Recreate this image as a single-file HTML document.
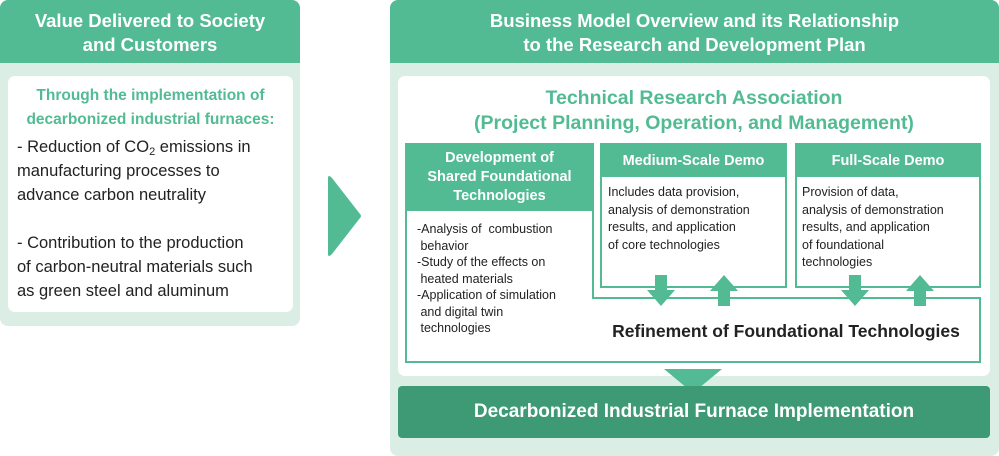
<!DOCTYPE html>
<html><head><meta charset="utf-8"><style>
*{margin:0;padding:0;box-sizing:border-box}
body{width:999px;height:456px;background:#fff;font-family:"Liberation Sans",sans-serif;position:relative;overflow:hidden;color:#222}
.a{position:absolute}
.hd{background:#52bb94;color:#fff;font-weight:bold;text-align:center}
.pan{background:#dbeee6;border-radius:8px}
.w{background:#fff;border-radius:7px}
.bx{border:2px solid #52bb94;background:#fff}
.t{font-size:13.5px;line-height:17px}
sub{font-size:11px;line-height:0;vertical-align:-3px}
</style></head><body>
<div class="a pan" style="left:0;top:0;width:300px;height:326px"></div>
<div class="a hd" style="left:0;top:0;width:300px;height:63px;border-radius:8px 8px 0 0;font-size:18.5px;line-height:24px;padding-top:9px">Value Delivered to Society<br>and Customers</div>
<div class="a w" style="left:8px;top:76px;width:285px;height:236px"></div>
<div class="a" style="left:8px;top:84px;width:285px;text-align:center;color:#52bb94;font-weight:bold;font-size:15.5px;line-height:24px">Through the implementation of<br>decarbonized industrial furnaces:</div>
<div class="a" style="left:17px;top:135px;width:270px;font-size:16.5px;line-height:24px">- Reduction of CO<sub>2</sub> emissions in<br>manufacturing processes to<br>advance carbon neutrality<br><br>- Contribution to the production<br>of carbon-neutral materials such<br>as green steel and aluminum</div>
<svg class="a" style="left:326px;top:174px" width="36" height="84"><path d="M2 4 Q2 0 6 4 L34 40 Q36 42 34 44 L6 80 Q2 84 2 80Z" fill="#52bb94"/></svg>
<div class="a pan" style="left:390px;top:0;width:609px;height:456px"></div>
<div class="a hd" style="left:390px;top:0;width:609px;height:63px;border-radius:8px 8px 0 0;font-size:18.5px;line-height:24px;padding-top:9px">Business Model Overview and its Relationship<br>to the Research and Development Plan</div>
<div class="a w" style="left:398px;top:76px;width:592px;height:300px"></div>
<div class="a" style="left:398px;top:86px;width:592px;text-align:center;color:#52bb94;font-weight:bold;font-size:19.5px;line-height:25px">Technical Research Association<br>(Project Planning, Operation, and Management)</div>
<div class="a bx" style="left:405px;top:143px;width:189px;height:220px"></div>
<div class="a bx" style="left:592px;top:297px;width:389px;height:66px;border-left:none"></div>
<div class="a" style="left:590px;top:299px;width:6px;height:62px;background:#fff"></div>
<div class="a hd" style="left:405px;top:143px;width:189px;height:68px;font-size:14.5px;line-height:19px;padding-top:6px">Development of<br>Shared Foundational<br>Technologies</div>
<div class="a t" style="left:417px;top:221px;width:175px;font-size:12.5px;line-height:16.5px">-Analysis of &nbsp;combustion<br>&nbsp;behavior<br>-Study of the effects on<br>&nbsp;heated materials<br>-Application of simulation<br>&nbsp;and digital twin<br>&nbsp;technologies</div>
<div class="a bx" style="left:600px;top:143px;width:187px;height:145px"></div>
<div class="a hd" style="left:600px;top:143px;width:187px;height:34px;font-size:14.5px;line-height:36px">Medium-Scale Demo</div>
<div class="a t" style="left:608px;top:184px;width:180px;font-size:12.5px;line-height:17.5px">Includes data provision,<br>analysis of demonstration<br>results, and application<br>of core technologies</div>
<div class="a bx" style="left:795px;top:143px;width:186px;height:145px"></div>
<div class="a hd" style="left:795px;top:143px;width:186px;height:34px;font-size:14.5px;line-height:36px">Full-Scale Demo</div>
<div class="a t" style="left:802px;top:184px;width:180px;font-size:12.5px;line-height:17.5px">Provision of data,<br>analysis of demonstration<br>results, and application<br>of foundational<br>technologies</div>
<svg class="a" style="left:0;top:0" width="999" height="456">
<g fill="#52bb94">
<path d="M655 275h12v15h8l-14 16-14-16h8z"/>
<path d="M718 306h12v-15h8l-14-16-14 16h8z"/>
<path d="M849 275h12v15h8l-14 16-14-16h8z"/>
<path d="M914 306h12v-15h8l-14-16-14 16h8z"/>
<path d="M664 369h58l-29 24z"/>
</g></svg>
<div class="a" style="left:596px;top:319px;width:380px;text-align:center;font-weight:bold;font-size:17.5px;line-height:24px">Refinement of Foundational Technologies</div>
<div class="a" style="left:398px;top:386px;width:592px;height:52px;background:#3d9a75;border-radius:4px;color:#fff;font-weight:bold;font-size:19px;text-align:center;line-height:52px">Decarbonized Industrial Furnace Implementation</div>
</body></html>
